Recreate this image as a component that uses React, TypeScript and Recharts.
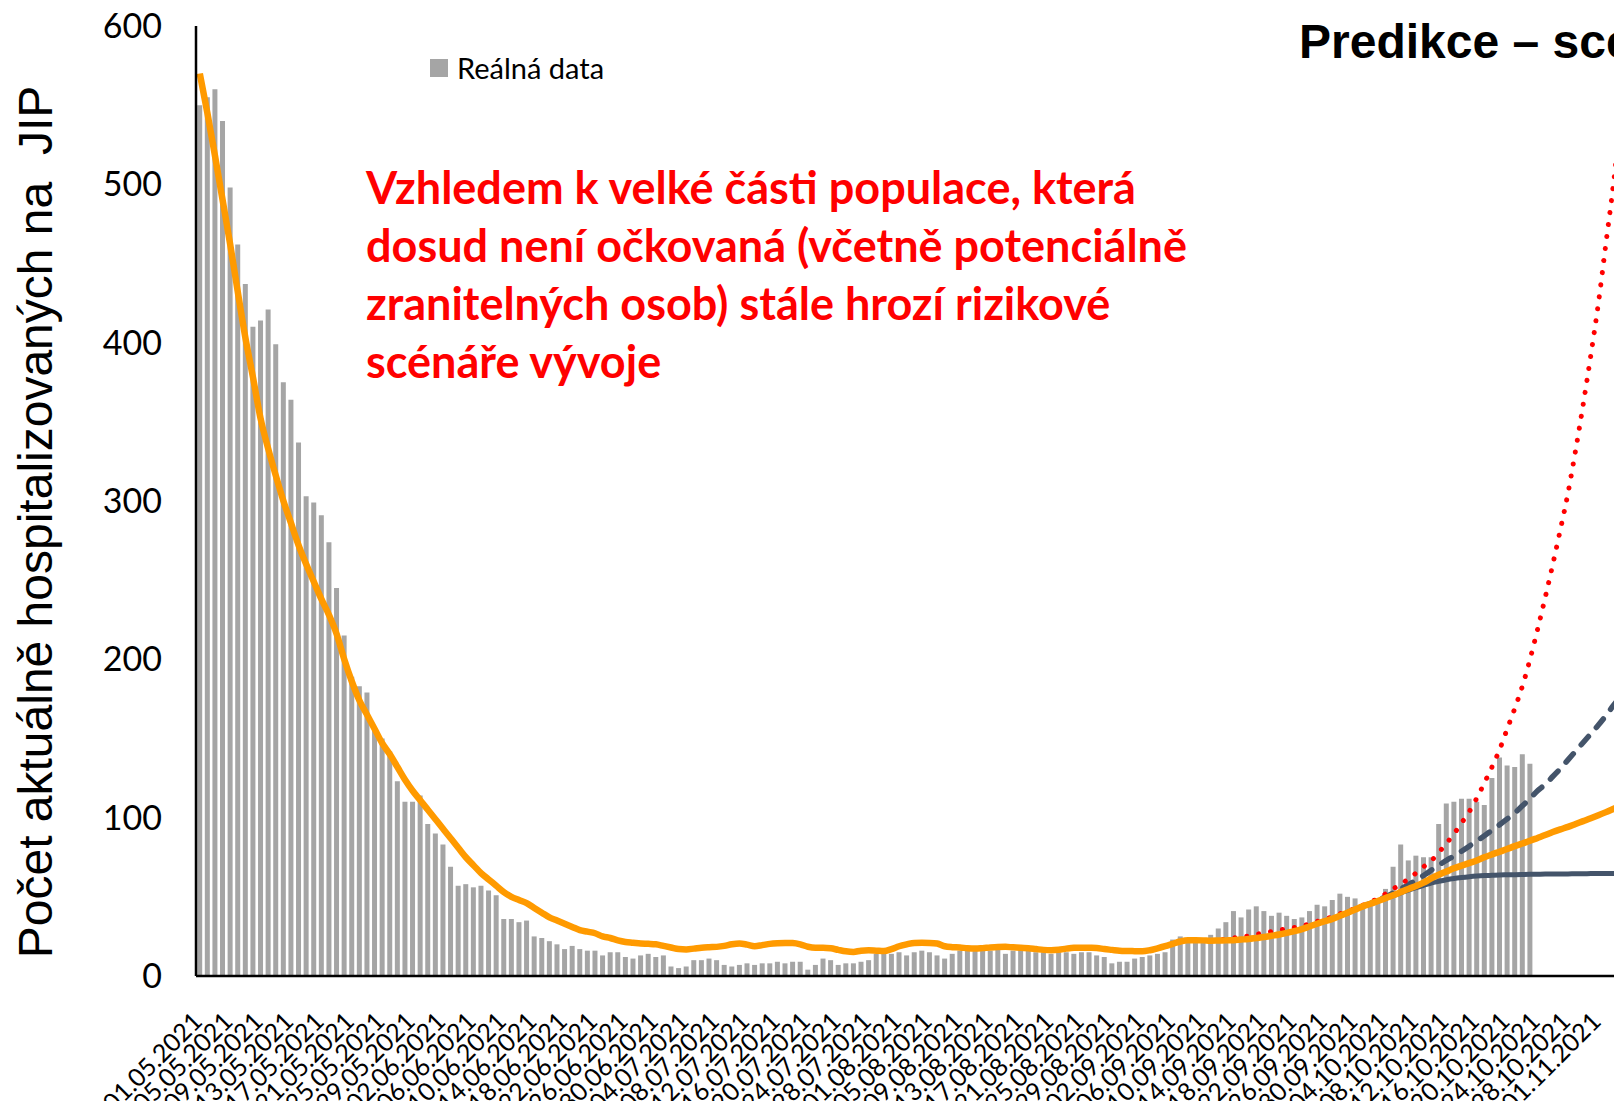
import React from "react"
import { ComposedChart, Bar, Line, XAxis, YAxis, Legend } from "recharts"

// one category per day, 01.05.2021 onwards
const FIRST_DAY = Date.UTC(2021, 4, 1)
const DAY_COUNT = 188
const pad = (n: number) => String(n).padStart(2, "0")
const dates = Array.from({ length: DAY_COUNT }, (_, i) => {
  const d = new Date(FIRST_DAY + i * 86400000)
  return `${pad(d.getUTCDate())}.${pad(d.getUTCMonth() + 1)}.${d.getUTCFullYear()}`
})

const yTicks = [0, 100, 200, 300, 400, 500, 600]

// ICU beds, daily (01.05. - 23.10.)
const realData = [
  550, 555, 560, 540, 498, 462, 437, 410, 414, 421,
  399, 375, 364, 337, 303, 299, 291, 274, 245, 215,
  189, 183, 179, 157, 150, 142, 123, 110, 110, 114,
  96, 90, 83, 69, 57, 58, 56, 57, 54, 51,
  36, 36, 34, 35, 25, 24, 22, 20, 17, 19,
  17, 16, 16, 13, 15, 15, 12, 11, 13, 14,
  12, 13, 6, 5, 6, 10, 10, 11, 10, 7,
  6, 7, 8, 7, 8, 8, 9, 8, 9, 9,
  4, 7, 11, 10, 7, 8, 8, 9, 10, 14,
  14, 14, 15, 13, 15, 16, 15, 13, 11, 14,
  16, 16, 16, 16, 16, 17, 14, 16, 17, 16,
  15, 15, 14, 15, 15, 14, 15, 15, 13, 12,
  8, 9, 9, 11, 12, 13, 14, 15, 23, 25,
  23, 23, 23, 26, 30, 34, 41, 37, 42, 44,
  41, 38, 40, 38, 36, 37, 41, 45, 44, 48,
  52, 50, 49, 45, 46, 49, 55, 69, 83, 73,
  76, 75, 75, 96, 109, 110, 112, 112, 110, 108,
  125, 138, 133, 132, 140, 134,
]

// smoothed trend + base prediction (orange)
const trend = [
  570, 545, 518, 490, 462, 432, 403, 378, 352, 333,
  316, 300, 286, 272, 260, 249, 238, 228, 216, 200,
  186, 174, 165, 156, 147, 140, 132, 124, 117, 111,
  105, 99, 93, 87, 81, 75, 70, 65, 61, 57,
  53, 50, 48, 46, 43, 40, 37, 35, 33, 31,
  29, 28, 27, 25, 24, 22.5, 21.5, 21, 20.5, 20.3,
  20, 19, 18, 17, 16.8, 17.3, 17.9, 18.2, 18.4, 19,
  20, 20.5, 19.8, 18.8, 19.5, 20.3, 20.7, 20.9, 20.8, 20,
  18.5, 17.9, 17.9, 17.5, 16.5, 15.6, 15.2, 16, 16.2, 16,
  15.8, 17, 18.8, 20, 20.9, 21, 20.9, 20.5, 18.8, 18.2,
  18, 17.5, 17.3, 17.6, 18, 18.3, 18.4, 18.1, 17.9, 17.5,
  17, 16.5, 16.3, 16.6, 17.3, 17.8, 17.9, 17.8, 17.7, 17,
  16.5, 16, 15.8, 15.7, 15.6, 16.3, 17.5, 18.8, 20.3, 21.8,
  22.6, 22.6, 22.5, 22.3, 22.4, 22.5, 22.6, 23, 23.4, 24,
  24.6, 25.4, 26.2, 27.2, 28.3, 29.6, 31.3, 33, 34.6, 36.1,
  38, 40, 42, 44, 45.6, 47.4, 49.2, 51, 53, 55,
  56.8, 59, 61.6, 64, 66, 68, 69.7, 71.3, 73, 75,
  76.8, 78.5, 80.2, 82, 83.7, 85.4, 87.2, 89, 90.9, 92.6,
  94.2, 96, 97.8, 99.6, 101.5, 103.5, 105.6, 107.6,
]

// pessimistic scenario (red dotted), from 12.09.
const HIGH_START = 133
const scenarioHigh = [
  22.3, 22.7, 23.3, 24, 24.6, 25.3, 26.3, 27.2, 28.1, 29,
  29.8, 30.6, 31.5, 33, 34.5, 35.7, 37.4, 39.3, 41, 42.7,
  44.6, 46.6, 49, 51.9, 55, 58, 61.3, 65, 69, 72.7,
  78, 83.7, 89.8, 96.7, 103.7, 112.3, 122, 132, 143, 156,
  169, 183, 200, 219, 239, 260, 282, 305, 332, 361,
  392, 425, 463, 501, 545,
]

// middle scenario (dashed) and optimistic scenario (solid), from 29.09.
const SCEN_START = 150
const scenarioMid = [
  38, 40, 42, 44, 45.8, 47.8, 50, 52.4, 55, 57.6,
  60.5, 63.5, 66.8, 70, 73, 75.8, 78.8, 82, 85.3, 88.6,
  92, 95.5, 99.2, 103, 107.5, 112, 117, 121, 126, 131,
  136.5, 142, 147.5, 153, 158.5, 164.5, 171, 177,
]
const scenarioLow = [
  38, 40, 42, 44, 45.6, 47.3, 49, 50.7, 52.5, 54.2,
  55.8, 57.3, 58.7, 59.8, 60.8, 61.6, 62.2, 62.7, 63.1, 63.4,
  63.6, 63.8, 63.9, 64, 64.1, 64.2, 64.3, 64.4, 64.4, 64.5,
  64.5, 64.6, 64.6, 64.7, 64.7, 64.8, 64.8, 64.8,
]

const rows = dates.map((date, i) => ({
  date,
  real: i < realData.length ? realData[i] : null,
  trend: trend[i],
  high: i >= HIGH_START ? scenarioHigh[i - HIGH_START] ?? null : null,
  mid: i >= SCEN_START ? scenarioMid[i - SCEN_START] ?? null : null,
  low: i >= SCEN_START ? scenarioLow[i - SCEN_START] ?? null : null,
}))

const BAR_GRAY = "#A5A5A5"
const ORANGE = "#FF9A00"
const NAVY = "#44546A"
const RED = "#FF0000"

const calibri = "Lato, 'Open Sans', sans-serif"
const arial = "'Liberation Sans', Arial, sans-serif"

function DateTick({ x, y, payload }: any) {
  return (
    <g transform={`translate(${x + 4},${y + 47}) rotate(-45)`}>
      <text textAnchor="end" fontSize={25} fontFamily={calibri} fill="#000">
        {payload.value}
      </text>
    </g>
  )
}

function LegendBox() {
  return (
    <div style={{ display: "flex", alignItems: "center", fontFamily: calibri, fontSize: 29, color: "#000", whiteSpace: "nowrap" }}>
      <span style={{ width: 18, height: 18, background: BAR_GRAY, marginRight: 9, display: "inline-block" }} />
      Reálná data
    </div>
  )
}

const redLines = [
  "Vzhledem k velké části populace, která",
  "dosud není očkovaná (včetně potenciálně",
  "zranitelných osob) stále hrozí rizikové",
  "scénáře vývoje",
]

export default function App() {
  return (
    <div style={{ position: "fixed", left: 0, top: 0, width: 1614, height: 1101, overflow: "hidden", background: "#fff" }}>
      <ComposedChart
        width={1625}
        height={1101}
        data={rows}
        margin={{ top: 26, right: 0, left: 0, bottom: 0 }}
        barCategoryGap="16%"
      >
        <XAxis
          dataKey="date"
          interval={3}
          height={125}
          tickLine={false}
          tickSize={0}
          tickMargin={0}
          axisLine={{ stroke: "#000", strokeWidth: 2.5 }}
          tick={<DateTick />}
        />
        <YAxis
          width={196}
          domain={[0, 600]}
          ticks={yTicks}
          tickLine={false}
          tickSize={0}
          tickMargin={34}
          axisLine={{ stroke: "#000", strokeWidth: 2.5 }}
          tick={{ fontSize: 34, fill: "#000", fontFamily: calibri }}
        />
        <Legend
          layout="horizontal"
          verticalAlign="middle"
          align="center"
          wrapperStyle={{ top: 50, left: 430, width: "auto" }}
          content={() => <LegendBox />}
        />
        <Bar dataKey="real" name="Reálná data" fill={BAR_GRAY} isAnimationActive={false} />
        <Line type="monotone" dataKey="low" stroke={NAVY} strokeWidth={5} dot={false} activeDot={false} isAnimationActive={false} />
        <Line type="monotone" dataKey="mid" stroke={NAVY} strokeWidth={5.5} strokeDasharray="11 12" strokeLinecap="round" dot={false} activeDot={false} isAnimationActive={false} />
        <Line type="monotone" dataKey="high" stroke={RED} strokeWidth={5} strokeDasharray="0.1 12" strokeLinecap="round" dot={false} activeDot={false} isAnimationActive={false} />
        <Line type="monotone" dataKey="trend" stroke={ORANGE} strokeWidth={6.5} dot={false} activeDot={false} isAnimationActive={false} />
      </ComposedChart>

      <div style={{ position: "absolute", left: 366, top: 158, fontFamily: calibri, fontWeight: 700, fontSize: 45, lineHeight: "58px", color: RED, whiteSpace: "nowrap" }}>
        {redLines.map(l => <div key={l}>{l}</div>)}
      </div>

      <div style={{ position: "absolute", left: 1299, top: 14, fontFamily: arial, fontWeight: 700, fontSize: 48, lineHeight: "56px", color: "#000", whiteSpace: "nowrap" }}>
        Predikce – scénáře
      </div>

      <div style={{ position: "absolute", left: 36, top: 522, transform: "translate(-50%, -50%) rotate(-90deg)", fontFamily: arial, fontSize: 48, lineHeight: "48px", color: "#000", whiteSpace: "pre" }}>
        {"Počet aktuálně hospitalizovaných na  JIP"}
      </div>
    </div>
  )
}
